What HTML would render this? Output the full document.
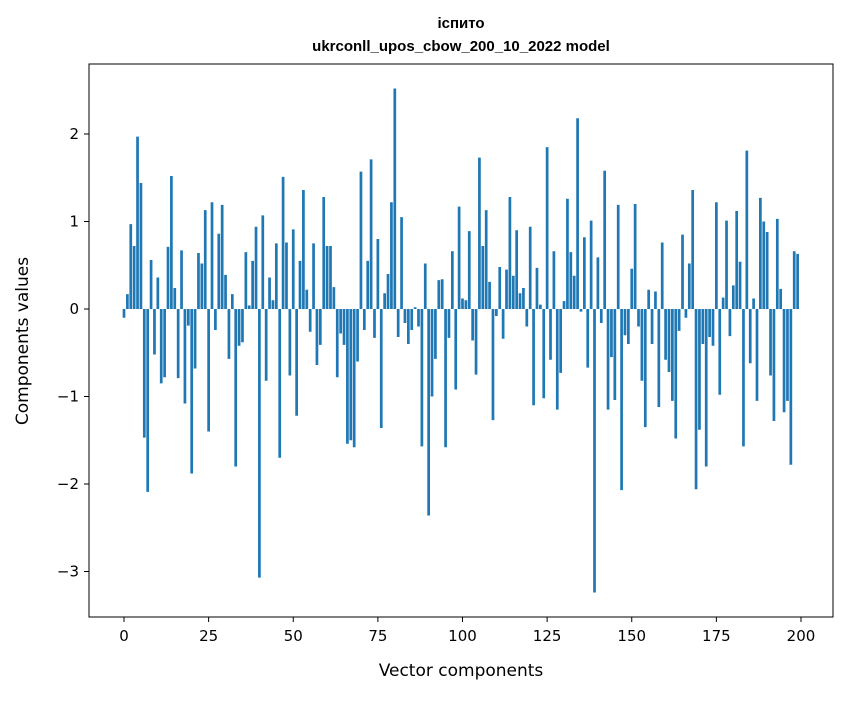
<!DOCTYPE html>
<html><head><meta charset="utf-8"><style>
body{margin:0;background:#fff;font-family:"Liberation Sans","DejaVu Sans",sans-serif;}
svg text{font-family:"DejaVu Sans","Liberation Sans",sans-serif;}
svg text.ttl{font-family:"Liberation Sans","DejaVu Sans",sans-serif;}
</style></head><body>
<svg id="chart" width="847" height="696" xmlns="http://www.w3.org/2000/svg">
<text class="ttl" x="461" y="28" text-anchor="middle" font-size="15" font-weight="bold">іспито</text>
<text class="ttl" x="461" y="51" text-anchor="middle" font-size="15" font-weight="bold">ukrconll_upos_cbow_200_10_2022 model</text>
<g id="bars"></g>
<g id="axes"></g>
<rect x="89" y="64" width="744" height="553" fill="none" stroke="#000" stroke-width="1"/>
<text x="461" y="676" text-anchor="middle" font-size="17">Vector components</text>
<text transform="translate(28,341) rotate(-90)" text-anchor="middle" font-size="17">Components values</text>
</svg>
<script>
const values = [-0.1,0.17,0.97,0.72,1.97,1.44,-1.47,-2.09,0.56,-0.52,0.36,-0.85,-0.78,0.71,1.52,0.24,-0.79,0.67,-1.08,-0.19,-1.88,-0.68,0.64,0.52,1.13,-1.4,1.22,-0.24,0.86,1.19,0.39,-0.57,0.17,-1.8,-0.42,-0.38,0.65,0.04,0.55,0.94,-3.07,1.07,-0.82,0.36,0.1,0.75,-1.7,1.51,0.76,-0.76,0.91,-1.22,0.55,1.36,0.22,-0.26,0.75,-0.64,-0.41,1.28,0.72,0.72,0.25,-0.78,-0.28,-0.41,-1.54,-1.5,-1.58,-0.6,1.57,-0.24,0.55,1.71,-0.33,0.8,-1.36,0.18,0.4,1.22,2.52,-0.32,1.05,-0.16,-0.4,-0.24,0.02,-0.2,-1.57,0.52,-2.36,-1.0,-0.57,0.33,0.34,-1.58,-0.33,0.66,-0.92,1.17,0.12,0.1,0.89,-0.36,-0.75,1.73,0.72,1.13,0.31,-1.27,-0.08,0.48,-0.34,0.45,1.28,0.38,0.9,0.18,0.24,-0.2,0.94,-1.1,0.47,0.05,-1.02,1.85,-0.58,0.66,-1.15,-0.73,0.09,1.26,0.65,0.38,2.18,-0.03,0.82,-0.67,1.01,-3.24,0.59,-0.16,1.58,-1.15,-0.55,-1.04,1.19,-2.07,-0.3,-0.4,0.46,1.2,-0.2,-0.82,-1.35,0.22,-0.4,0.2,-1.12,0.76,-0.58,-0.72,-1.05,-1.48,-0.25,0.85,-0.1,0.52,1.36,-2.06,-1.38,-0.4,-1.8,-0.32,-0.42,1.22,-0.98,0.13,1.01,-0.31,0.27,1.12,0.54,-1.57,1.81,-0.62,0.12,-1.05,1.27,1.0,0.88,-0.76,-1.28,1.03,0.23,-1.18,-1.05,-1.78,0.66,0.63];
const xTicks = [0,25,50,75,100,125,150,175,200];
const yTicks = [-3,-2,-1,0,1,2];
const NS="http://www.w3.org/2000/svg";
function xs(v){return 124+(v)*(801-124)/200;}
function ys(v){return 309-v*87.5;}
const bars=document.getElementById('bars');
values.forEach((v,i)=>{
  const r=document.createElementNS(NS,'rect');
  const x0=xs(i-0.4), x1=xs(i+0.4);
  r.setAttribute('x',x0);r.setAttribute('width',x1-x0);
  r.setAttribute('y',Math.min(ys(v),ys(0)));r.setAttribute('height',Math.abs(ys(v)-ys(0)));
  r.setAttribute('fill','#1f77b4');
  
  
  bars.appendChild(r);
});
const axes=document.getElementById('axes');
xTicks.forEach(t=>{
  const l=document.createElementNS(NS,'line');
  l.setAttribute('x1',xs(t));l.setAttribute('x2',xs(t));l.setAttribute('y1',617);l.setAttribute('y2',622);l.setAttribute('stroke','#000');
  
  
  axes.appendChild(l);
  const tx=document.createElementNS(NS,'text');
  tx.setAttribute('x',xs(t));tx.setAttribute('y',641);tx.setAttribute('text-anchor','middle');tx.setAttribute('font-size','15');
  tx.textContent=t;
  
  
  axes.appendChild(tx);
});
yTicks.forEach(t=>{
  const l=document.createElementNS(NS,'line');
  l.setAttribute('x1',84);l.setAttribute('x2',89);l.setAttribute('y1',ys(t));l.setAttribute('y2',ys(t));l.setAttribute('stroke','#000');
  
  
  axes.appendChild(l);
  const tx=document.createElementNS(NS,'text');
  tx.setAttribute('x',79);tx.setAttribute('y',ys(t)+5);tx.setAttribute('text-anchor','end');tx.setAttribute('font-size','15');
  tx.textContent=t<0?'\u2212'+Math.abs(t):String(t);
  
  
  axes.appendChild(tx);
});
</script>
</body></html>
